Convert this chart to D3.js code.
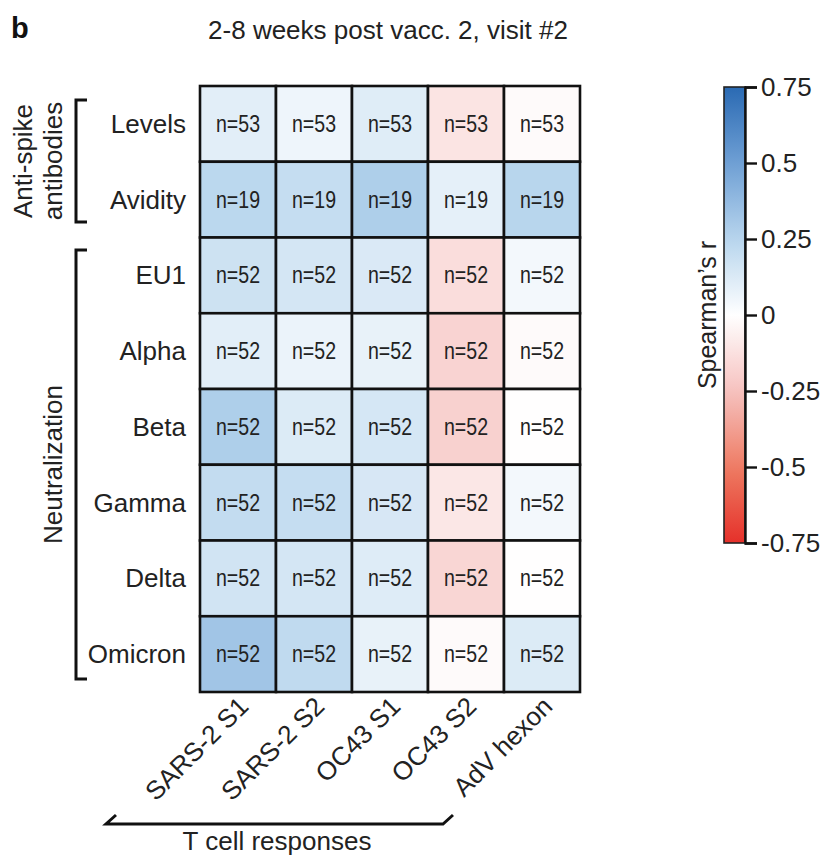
<!DOCTYPE html>
<html>
<head>
<meta charset="utf-8">
<script src="https://cdn.jsdelivr.net/npm/d3@7"></script>
<style>
  html, body { margin: 0; padding: 0; background: #fff; }
  svg { display: block; font-family: "Liberation Sans", Arial, Helvetica, sans-serif; }
</style>
</head>
<body>
<svg id="chart" width="828" height="858"></svg>
<script>
// Antibody readouts (rows) and T cell response targets (columns)
const rowLabels = ["Levels", "Avidity", "EU1", "Alpha", "Beta", "Gamma", "Delta", "Omicron"];
const colLabels = ["SARS-2 S1", "SARS-2 S2", "OC43 S1", "OC43 S2", "AdV hexon"];

// Spearman's r per row, one value per column
const rLevels  = [0.10, 0.06, 0.11, -0.11, -0.02];
const rAvidity = [0.235, 0.20, 0.28, 0.09, 0.245];
const rEU1     = [0.175, 0.15, 0.13, -0.14, 0.04];
const rAlpha   = [0.10, 0.07, 0.08, -0.18, -0.02];
const rBeta    = [0.28, 0.12, 0.145, -0.19, -0.005];
const rGamma   = [0.21, 0.20, 0.14, -0.10, 0.04];
const rDelta   = [0.16, 0.15, 0.115, -0.17, -0.005];
const rOmicron = [0.325, 0.22, 0.08, -0.02, 0.12];
const rValues = [rLevels, rAvidity, rEU1, rAlpha, rBeta, rGamma, rDelta, rOmicron];

// Number of paired samples per row
const nPerRow = [53, 19, 52, 52, 52, 52, 52, 52];

// Colour bar ticks
const cbTicks = [0.75, 0.5, 0.25, 0, -0.25, -0.5, -0.75];
const cbTickLabels = ["0.75", "0.5", "0.25", "0", "-0.25", "-0.5", "-0.75"];

// Row groups (bracketed on the left)
const groups = [
  { lines: ["Anti-spike", "antibodies"], from: "Levels", to: "Avidity" },
  { lines: ["Neutralization"], from: "EU1", to: "Omicron" }
];

const svg = d3.select("#chart");
const FS = 26;

// Diverging colour map, red (negative) through white to blue (positive)
const color = d3.scaleLinear()
  .domain([-0.75, -0.5, -0.25, 0, 0.25, 0.5, 0.75])
  .range(["#e5302a", "#ee7c63", "#f6c2c0", "#ffffff", "#b7d5ed", "#6f9fd4", "#2a6ab3"])
  .interpolate(d3.interpolateRgb)
  .clamp(true);

// Heatmap geometry
const x = d3.scaleBand().domain(colLabels).range([200, 580]);
const y = d3.scaleBand().domain(rowLabels).range([86, 692]);

const cells = [];
rowLabels.forEach((r, i) => colLabels.forEach((c, j) => {
  cells.push({ row: r, col: c, v: rValues[i][j], n: nPerRow[i] });
}));

const g = svg.append("g");
g.selectAll("rect.cell").data(cells).join("rect")
  .attr("class", "cell")
  .attr("x", d => x(d.col))
  .attr("y", d => y(d.row))
  .attr("width", x.bandwidth())
  .attr("height", y.bandwidth())
  .attr("fill", d => color(d.v))
  .attr("stroke", "#111")
  .attr("stroke-width", 2.6);

g.selectAll("text.n").data(cells).join("text")
  .attr("class", "n")
  .attr("x", d => x(d.col) + x.bandwidth() / 2)
  .attr("y", d => y(d.row) + y.bandwidth() / 2 + 8)
  .attr("text-anchor", "middle")
  .attr("font-size", 23)
  .attr("textLength", 44)
  .attr("lengthAdjust", "spacingAndGlyphs")
  .attr("fill", "#222")
  .text(d => "n=" + d.n);

// Row labels
svg.append("g").selectAll("text").data(rowLabels).join("text")
  .attr("x", 186)
  .attr("y", d => y(d) + y.bandwidth() / 2 + 9)
  .attr("text-anchor", "end")
  .attr("font-size", FS)
  .attr("fill", "#222")
  .text(d => d);

// Column labels, rotated
svg.append("g").selectAll("text").data(colLabels).join("text")
  .attr("transform", d => `translate(${x(d) + x.bandwidth() / 2 + 12},${708}) rotate(-45)`)
  .attr("text-anchor", "end")
  .attr("font-size", FS)
  .attr("fill", "#222")
  .text(d => d);

// Group brackets on the left
const bx = 76;
const bracketSpans = [[100, 222], [250, 679]];
groups.forEach((grp, k) => {
  const [y0, y1] = bracketSpans[k];
  svg.append("path")
    .attr("d", `M${bx + 11},${y0} H${bx} V${y1} H${bx + 11}`)
    .attr("fill", "none")
    .attr("stroke", "#111")
    .attr("stroke-width", 3);
  const cy = (y0 + y1) / 2;
  const lx = grp.lines.length === 2 ? [24, 54] : [54];
  grp.lines.forEach((t, i) => {
    svg.append("text")
      .attr("transform", `translate(${lx[i] + 8},${cy}) rotate(-90)`)
      .attr("text-anchor", "middle")
      .attr("font-size", FS)
      .attr("fill", "#222")
      .text(t);
  });
});

// Bottom bracket for T cell responses
svg.append("path")
  .attr("d", "M116,815 L106,824 H443 L453,815")
  .attr("fill", "none")
  .attr("stroke", "#111")
  .attr("stroke-width", 3);
svg.append("text")
  .attr("x", 277).attr("y", 850)
  .attr("text-anchor", "middle")
  .attr("font-size", FS)
  .attr("fill", "#222")
  .text("T cell responses");

// Title and panel letter
svg.append("text")
  .attr("x", 11).attr("y", 38)
  .attr("font-size", 29).attr("font-weight", "bold")
  .attr("fill", "#111")
  .text("b");
svg.append("text")
  .attr("x", 388).attr("y", 39)
  .attr("text-anchor", "middle")
  .attr("font-size", FS)
  .attr("fill", "#222")
  .text("2-8 weeks post vacc. 2, visit #2");

// Colour bar
const cbX = 724, cbW = 21;
const cbY = d3.scaleLinear().domain([0.75, -0.75]).range([87, 543]);
const defs = svg.append("defs");
const grad = defs.append("linearGradient")
  .attr("id", "cbGrad")
  .attr("x1", 0).attr("y1", 0).attr("x2", 0).attr("y2", 1);
d3.range(0, 1.0001, 0.05).forEach(t => {
  const v = 0.75 - 1.5 * t;
  grad.append("stop").attr("offset", t).attr("stop-color", color(v));
});
svg.append("rect")
  .attr("x", cbX).attr("y", cbY(0.75))
  .attr("width", cbW).attr("height", cbY(-0.75) - cbY(0.75))
  .attr("fill", "url(#cbGrad)")
  .attr("stroke", "#222")
  .attr("stroke-width", 1.6);

const cbAxis = d3.axisRight(cbY)
  .tickValues(cbTicks)
  .tickFormat((d, i) => cbTickLabels[i])
  .tickSize(12)
  .tickPadding(4);
const axG = svg.append("g")
  .attr("transform", `translate(${cbX + cbW},0)`)
  .call(cbAxis);
axG.select(".domain").attr("stroke", "#111").attr("stroke-width", 2.4);
axG.selectAll(".tick line").attr("stroke", "#111").attr("stroke-width", 2.4);
axG.selectAll(".tick text")
  .attr("font-size", FS)
  .attr("font-family", "'Liberation Sans', Arial, sans-serif")
  .attr("fill", "#222");

svg.append("text")
  .attr("transform", `translate(${716},${cbY(0)}) rotate(-90)`)
  .attr("text-anchor", "middle")
  .attr("font-size", 25)
  .attr("fill", "#222")
  .text("Spearman\u2019s r");
</script>
</body>
</html>
